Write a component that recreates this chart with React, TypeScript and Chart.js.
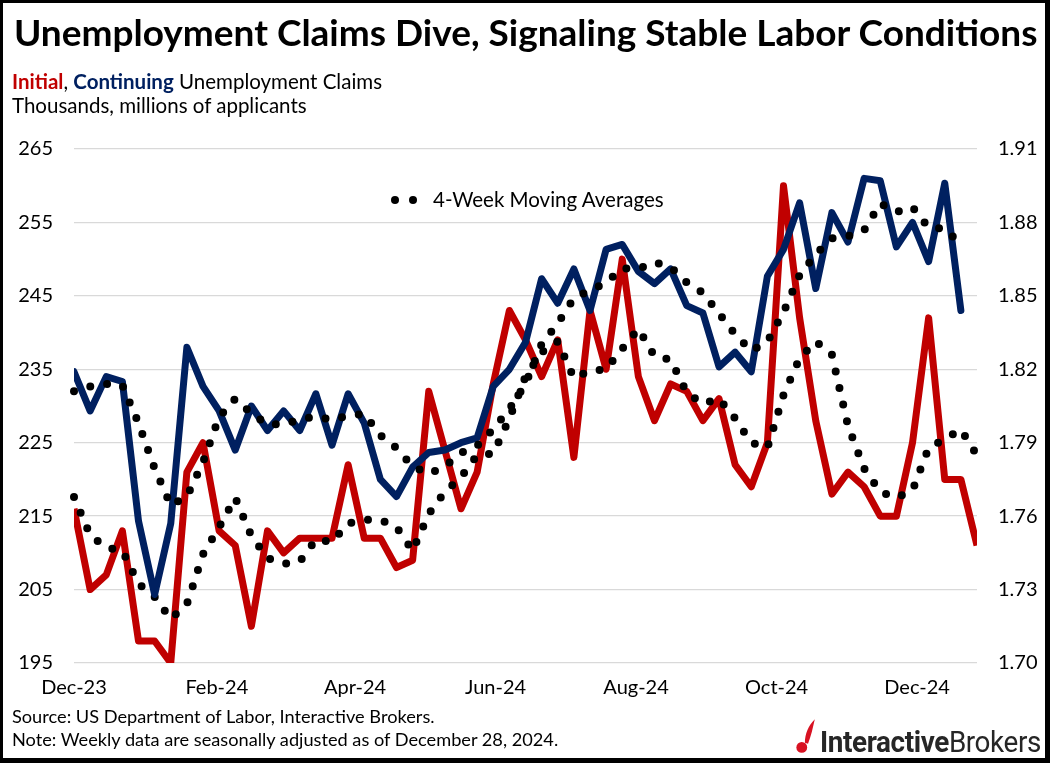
import React, { useEffect, useRef } from "react";
import { Chart, registerables } from "chart.js";

Chart.register(...registerables);

// Week-ending dates (Saturdays)
const weekEnding = [
  "2023-12-02", "2023-12-09", "2023-12-16", "2023-12-23", "2023-12-30",
  "2024-01-06", "2024-01-13", "2024-01-20", "2024-01-27",
  "2024-02-03", "2024-02-10", "2024-02-17", "2024-02-24",
  "2024-03-02", "2024-03-09", "2024-03-16", "2024-03-23", "2024-03-30",
  "2024-04-06", "2024-04-13", "2024-04-20", "2024-04-27",
  "2024-05-04", "2024-05-11", "2024-05-18", "2024-05-25",
  "2024-06-01", "2024-06-08", "2024-06-15", "2024-06-22", "2024-06-29",
  "2024-07-06", "2024-07-13", "2024-07-20", "2024-07-27",
  "2024-08-03", "2024-08-10", "2024-08-17", "2024-08-24", "2024-08-31",
  "2024-09-07", "2024-09-14", "2024-09-21", "2024-09-28",
  "2024-10-05", "2024-10-12", "2024-10-19", "2024-10-26",
  "2024-11-02", "2024-11-09", "2024-11-16", "2024-11-23", "2024-11-30",
  "2024-12-07", "2024-12-14", "2024-12-21", "2024-12-28",
];

// Initial claims, thousands (left axis)
const initialClaims = [
  216, 205, 207, 213, 198, 198, 195, 221, 225, 213, 211, 200, 213, 210, 212,
  212, 212, 222, 212, 212, 208, 209, 232, 224, 216, 221, 233, 243, 239, 234,
  239, 223, 243, 235, 250, 234, 228, 233, 232, 228, 231, 222, 219, 225, 260,
  242, 228, 218, 221, 219, 215, 215, 225, 242, 220, 220, 211,
];

// Initial claims 4-week moving average (left axis)
const initialClaimsMA = [
  217.6, 212.4, 210.7, 210.3, 205.8, 204.0, 201.0, 203.0, 209.8, 213.5, 217.5,
  212.3, 209.3, 208.5, 208.8, 211.8, 211.5, 214.0, 214.5, 214.5, 213.5, 210.3,
  215.3, 218.3, 220.3, 223.3, 223.5, 228.3, 234.0, 237.3, 238.8, 233.8, 234.8,
  235.0, 237.8, 240.5, 236.8, 236.3, 231.8, 230.3, 231.0, 228.3, 225.0, 224.3,
  231.5, 236.5, 238.8, 237.0, 227.3, 221.5, 218.3, 217.5, 218.5, 224.3, 225.5,
  226.8, 223.3,
];

// Continuing claims, millions (right axis)
const continuingClaims = [
  1.819, 1.803, 1.817, 1.815, 1.758, 1.728, 1.757, 1.829, 1.813, 1.803, 1.787,
  1.805, 1.795, 1.803, 1.795, 1.810, 1.789, 1.810, 1.798, 1.775, 1.768, 1.780,
  1.786, 1.787, 1.790, 1.792, 1.813, 1.820, 1.831, 1.857, 1.847, 1.861, 1.844,
  1.869, 1.871, 1.860, 1.855, 1.861, 1.846, 1.843, 1.821, 1.827, 1.819, 1.858,
  1.869, 1.888, 1.853, 1.884, 1.872, 1.898, 1.897, 1.870, 1.880, 1.864, 1.896,
  1.844,
];

// Continuing claims 4-week moving average (right axis)
const continuingClaimsMA = [
  1.811, 1.813, 1.814, 1.8135, 1.798, 1.7795, 1.7645, 1.768, 1.782, 1.8005,
  1.808, 1.802, 1.7975, 1.7975, 1.7995, 1.8008, 1.7993, 1.801, 1.8018, 1.793,
  1.7878, 1.7803, 1.7773, 1.7803, 1.7858, 1.7888, 1.7955, 1.8038, 1.814,
  1.8303, 1.8388, 1.849, 1.8523, 1.8553, 1.8613, 1.861, 1.8638, 1.8618,
  1.8555, 1.8513, 1.8428, 1.8343, 1.8275, 1.8313, 1.8433, 1.8585, 1.867,
  1.8735, 1.8743, 1.8768, 1.8878, 1.8843, 1.8863, 1.8778, 1.8775, 1.871,
];

const xTickDates = [
  "2023-12-02", "2024-02-02", "2024-04-02", "2024-06-02",
  "2024-08-02", "2024-10-02", "2024-12-02",
];
const xTickLabels = ["Dec-23", "Feb-24", "Apr-24", "Jun-24", "Aug-24", "Oct-24", "Dec-24"];
const leftTicks = [195, 205, 215, 225, 235, 245, 255, 265];
const rightTicks = [1.7, 1.73, 1.76, 1.79, 1.82, 1.85, 1.88, 1.91];

const RED = "#C00000";
const NAVY = "#002060";
const FONT = "Lato, 'Open Sans', sans-serif";

const DAY = 86400000;
const t0 = Date.parse(weekEnding[0]);
const dayOf = (d: string) => Math.round((Date.parse(d) - t0) / DAY);

const toPoints = (vals: number[]) =>
  vals.map((v, i) => ({ x: dayOf(weekEnding[i]), y: v }));

export default function App() {
  const canvasRef = useRef<HTMLCanvasElement | null>(null);

  useEffect(() => {
    document.body.style.margin = "0";
    const canvas = canvasRef.current;
    if (!canvas) return;
    const tickDays = xTickDates.map(dayOf);
    const chart = new Chart(canvas, {
      type: "line",
      data: {
        datasets: [
          {
            label: "Initial",
            data: toPoints(initialClaims),
            yAxisID: "y",
            borderColor: RED,
            backgroundColor: RED,
            borderWidth: 7,
            pointRadius: 0,
            tension: 0,
            borderJoinStyle: "round",
            borderCapStyle: "butt",
            order: 4,
            clip: 0,
          },
          {
            label: "Initial 4-wk MA",
            data: toPoints(initialClaimsMA),
            yAxisID: "y",
            borderColor: "#000",
            borderWidth: 8,
            borderDash: [0, 17],
            borderCapStyle: "round",
            pointRadius: 0,
            tension: 0,
            order: 3,
            clip: 6,
          },
          {
            label: "Continuing",
            data: toPoints(continuingClaims),
            yAxisID: "y2",
            borderColor: NAVY,
            backgroundColor: NAVY,
            borderWidth: 7,
            pointRadius: 0,
            tension: 0,
            borderJoinStyle: "round",
            borderCapStyle: "round",
            order: 2,
            clip: 0,
          },
          {
            label: "Continuing 4-wk MA",
            data: toPoints(continuingClaimsMA),
            yAxisID: "y2",
            borderColor: "#000",
            borderWidth: 8,
            borderDash: [0, 17],
            borderCapStyle: "round",
            pointRadius: 0,
            tension: 0,
            order: 1,
            clip: 6,
          },
        ],
      },
      options: {
        responsive: false,
        animation: false,
        events: [],
        layout: { padding: { top: 149, bottom: 60, left: 0, right: 0 } },
        plugins: { legend: { display: false }, tooltip: { enabled: false }, title: { display: false } },
        scales: {
          x: {
            type: "linear",
            min: 0,
            max: dayOf(weekEnding[weekEnding.length - 1]),
            grid: { display: false, drawTicks: false },
            border: { display: false },
            afterBuildTicks: (scale: any) => {
              scale.ticks = tickDays.map((v) => ({ value: v }));
            },
            afterFit: (scale: any) => {
              scale.height = 40;
            },
            ticks: {
              autoSkip: false,
              maxRotation: 0,
              padding: 13,
              color: "#000",
              font: { family: FONT, size: 20 },
              callback: (_v: any, i: number) => xTickLabels[i],
            },
          },
          y: {
            position: "left",
            min: 195,
            max: 265,
            grid: { color: "#D9D9D9", lineWidth: 1.3, drawTicks: false },
            border: { display: false },
            afterBuildTicks: (scale: any) => {
              scale.ticks = leftTicks.map((v) => ({ value: v }));
            },
            afterFit: (scale: any) => {
              scale.width = 74;
            },
            ticks: {
              padding: 21,
              color: "#000",
              font: { family: FONT, size: 20 },
              callback: (v: any) => String(v),
            },
          },
          y2: {
            position: "right",
            min: 1.7,
            max: 1.91,
            grid: { display: false, drawTicks: false },
            border: { display: false },
            afterBuildTicks: (scale: any) => {
              scale.ticks = rightTicks.map((v) => ({ value: v }));
            },
            afterFit: (scale: any) => {
              scale.width = 73;
            },
            ticks: {
              padding: 21,
              color: "#000",
              font: { family: FONT, size: 20 },
              callback: (v: any) => Number(v).toFixed(2),
            },
          },
        },
      },
    } as any);
    return () => chart.destroy();
  }, []);

  const abs = (s: React.CSSProperties): React.CSSProperties => ({
    position: "absolute",
    whiteSpace: "nowrap",
    lineHeight: 1,
    ...s,
  });

  return (
    <div
      style={{
        position: "relative",
        width: 1050,
        height: 763,
        background: "#fff",
        overflow: "hidden",
        fontFamily: FONT,
        color: "#000",
      }}
    >
      <canvas
        ref={canvasRef}
        width={1050}
        height={763}
        style={{ position: "absolute", left: 0, top: 0, display: "block" }}
      />
      <div style={abs({ left: 14, top: 13, fontSize: 37, fontWeight: 700 })}>
        Unemployment Claims Dive, Signaling Stable Labor Conditions
      </div>
      <div style={abs({ left: 12, top: 71, fontSize: 20.5 })}>
        <span style={{ color: RED, fontWeight: 700 }}>Initial</span>,{" "}
        <span style={{ color: NAVY, fontWeight: 700 }}>Continuing</span> Unemployment Claims
      </div>
      <div style={abs({ left: 12, top: 95, fontSize: 20.5 })}>Thousands, millions of applicants</div>
      <div style={abs({ left: 391, top: 196, width: 8, height: 8, borderRadius: 4, background: "#000" })} />
      <div style={abs({ left: 409, top: 196, width: 8, height: 8, borderRadius: 4, background: "#000" })} />
      <div style={abs({ left: 433, top: 189, fontSize: 20.5 })}>4-Week Moving Averages</div>
      <div style={abs({ left: 12, top: 707, fontSize: 18.2 })}>
        Source: US Department of Labor, Interactive Brokers.
      </div>
      <div style={abs({ left: 12, top: 730, fontSize: 18.2 })}>
        Note: Weekly data are seasonally adjusted as of December 28, 2024.
      </div>
      <div style={abs({ left: 795, top: 719, display: "flex", alignItems: "flex-end" })}>
        <svg width="25" height="36" viewBox="0 0 24 34" style={{ display: "block" }}>
          <circle cx="6.5" cy="27" r="5.2" fill="#D81222" />
          <path d="M9.5 22.5 C 9.5 14, 13 6, 19 0 C 17 8.5, 15.5 16, 12.5 23.5 Z" fill="#D81222" />
        </svg>
        <div
          style={{
            fontFamily: "Roboto, 'Liberation Sans', sans-serif",
            fontSize: 29,
            color: "#262626",
            transform: "scaleX(0.96)",
            transformOrigin: "left bottom",
            lineHeight: 1,
            letterSpacing: -0.4,
            marginBottom: -2,
          }}
        >
          <span style={{ fontWeight: 700 }}>Interactive</span>
          <span>Brokers</span>
        </div>
      </div>
      <div
        style={{
          position: "absolute",
          left: 0,
          top: 0,
          width: 1050,
          height: 763,
          boxSizing: "border-box",
          borderTop: "3px solid #000",
          borderLeft: "3px solid #000",
          borderRight: "5px solid #000",
          borderBottom: "5px solid #000",
          pointerEvents: "none",
        }}
      />
    </div>
  );
}
